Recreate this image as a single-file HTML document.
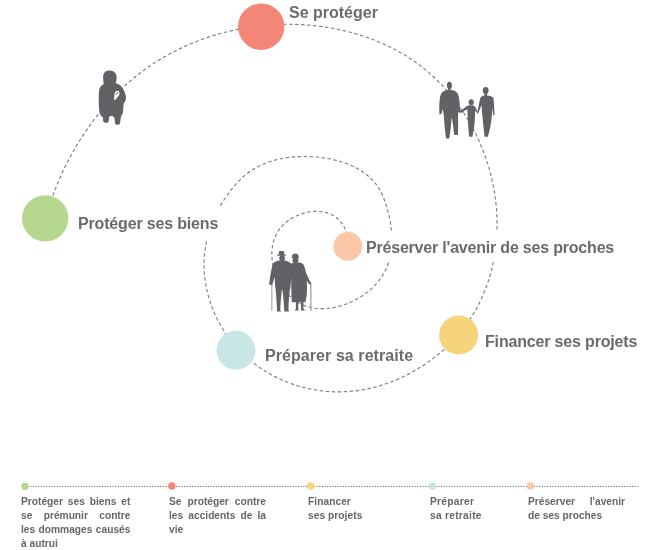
<!DOCTYPE html>
<html><head><meta charset="utf-8">
<style>
html,body{margin:0;padding:0;background:#fff;}
body{width:654px;height:550px;position:relative;overflow:hidden;font-family:"Liberation Sans",sans-serif;}
svg{position:absolute;left:0;top:0;}
.lbl{position:absolute;font-weight:bold;font-size:16px;color:#6a6b6f;white-space:nowrap;line-height:20px;background:#fff;will-change:transform;}
.col{position:absolute;top:495.2px;font-weight:bold;font-size:10.2px;line-height:13.85px;color:#65666a;will-change:transform;}
.j{text-align:justify;text-align-last:justify;}
</style></head><body>
<svg width="654" height="550" viewBox="0 0 654 550">
<path d="M347.86,246.83 L348.31,244.28 L348.36,241.44 L348.04,238.38 L347.38,235.22 L346.41,232.04 L345.17,228.95 L343.67,226.03 L341.97,223.39 L340.06,221.02 L337.97,218.93 L335.72,217.11 L333.32,215.56 L330.80,214.25 L328.15,213.20 L325.41,212.39 L322.59,211.81 L319.70,211.45 L316.77,211.32 L313.81,211.40 L310.83,211.68 L307.85,212.16 L304.89,212.84 L301.97,213.69 L299.10,214.73 L296.30,215.93 L293.58,217.30 L290.96,218.82 L288.46,220.50 L286.10,222.31 L283.89,224.26 L281.85,226.33 L279.99,228.53 L278.33,230.84 L276.87,233.25 L275.60,235.76 L274.52,238.35 L273.63,241.02 L272.93,243.75 L272.40,246.54 L272.04,249.37 L271.86,252.24 L271.84,255.14 L271.99,258.05 L272.29,260.97 L272.75,263.89 L273.36,266.79 L274.11,269.68 L275.01,272.53 L276.05,275.35 L277.22,278.11 L278.53,280.81 L279.96,283.45 L281.51,286.00 L283.18,288.46 L284.97,290.83 L286.87,293.09 L288.87,295.23 L290.98,297.24 L293.19,299.11 L295.49,300.84 L297.88,302.41 L300.37,303.82 L302.93,305.05 L305.57,306.09 L308.29,306.95 L311.06,307.63 L313.90,308.14 L316.78,308.47 L319.69,308.65 L322.64,308.67 L325.60,308.54 L328.58,308.27 L331.55,307.87 L334.52,307.33 L337.48,306.67 L340.40,305.89 L343.30,304.99 L346.15,303.99 L348.95,302.90 L351.70,301.70 L354.38,300.41 L357.01,299.03 L359.56,297.56 L362.04,296.00 L364.45,294.36 L366.78,292.63 L369.02,290.82 L371.19,288.94 L373.26,286.97 L375.24,284.93 L377.12,282.81 L378.91,280.62 L380.59,278.37 L382.17,276.04 L383.63,273.65 L384.98,271.20 L386.21,268.68 L387.33,266.11 L388.32,263.47 L389.18,260.79 L389.91,258.05 L390.53,255.27 L391.03,252.44 L391.42,249.58 L391.70,246.69 L391.87,243.77 L391.94,240.83 L391.91,237.87 L391.79,234.90 L391.58,231.92 L391.29,228.94 L390.91,225.96 L390.45,222.99 L389.91,220.03 L389.31,217.09 L388.63,214.17 L387.90,211.27 L387.10,208.41 L386.25,205.58 L385.34,202.79 L384.39,200.05 L383.37,197.36 L382.28,194.74 L381.08,192.21 L379.75,189.76 L378.30,187.42 L376.73,185.16 L375.05,183.00 L373.26,180.94 L371.36,178.96 L369.35,177.08 L367.26,175.28 L365.07,173.58 L362.79,171.96 L360.43,170.43 L357.99,168.99 L355.48,167.62 L352.90,166.35 L350.25,165.15 L347.55,164.04 L344.79,163.01 L341.98,162.06 L339.13,161.19 L336.23,160.39 L333.30,159.67 L330.33,159.03 L327.34,158.46 L324.33,157.97 L321.30,157.55 L318.25,157.20 L315.20,156.92 L312.14,156.71 L309.08,156.57 L306.03,156.50 L302.99,156.50 L299.96,156.56 L296.95,156.69 L293.95,156.89 L290.97,157.17 L288.02,157.52 L285.10,157.95 L282.20,158.45 L279.33,159.03 L276.49,159.70 L273.69,160.44 L270.93,161.27 L268.21,162.19 L265.52,163.19 L262.89,164.29 L260.30,165.47 L257.76,166.74 L255.28,168.11 L252.85,169.58 L250.48,171.14 L248.16,172.80 L245.91,174.56 L243.72,176.42 L241.59,178.35 L239.52,180.37 L237.51,182.46 L235.55,184.61 L233.64,186.82 L231.79,189.07 L229.99,191.37 L228.24,193.70 L226.55,196.07 L224.91,198.47 L223.32,200.91 L221.79,203.38 L220.32,205.89 L218.90,208.42 L217.55,210.99 L216.25,213.58 L215.01,216.19 L213.83,218.84 L212.72,221.50 L211.67,224.19 L210.68,226.90 L209.76,229.63 L208.90,232.38 L208.11,235.14 L207.39,237.92 L206.73,240.72 L206.15,243.52 L205.63,246.34 L205.18,249.17 L204.81,252.01 L204.51,254.86 L204.28,257.71 L204.13,260.57 L204.06,263.43 L204.05,266.30 L204.13,269.16 L204.28,272.03 L204.50,274.89 L204.79,277.75 L205.15,280.60 L205.59,283.45 L206.09,286.29 L206.67,289.12 L207.31,291.93 L208.02,294.74 L208.79,297.52 L209.63,300.30 L210.54,303.05 L211.51,305.79 L212.54,308.50 L213.63,311.19 L214.79,313.86 L216.00,316.50 L217.28,319.12 L218.61,321.70 L220.00,324.26 L221.45,326.78 L222.95,329.27 L224.51,331.73 L226.12,334.15 L227.79,336.53 L229.51,338.87 L231.28,341.17 L233.10,343.43 L234.97,345.64 L236.89,347.81 L238.86,349.93 L240.87,352.00 L242.94,354.03 L245.04,356.01 L247.19,357.93 L249.38,359.81 L251.61,361.64 L253.88,363.42 L256.19,365.15 L258.54,366.83 L260.92,368.45 L263.34,370.03 L265.79,371.55 L268.27,373.03 L270.78,374.45 L273.33,375.81 L275.90,377.13 L278.49,378.39 L281.12,379.59 L283.77,380.75 L286.44,381.84 L289.13,382.89 L291.85,383.88 L294.58,384.81 L297.34,385.68 L300.11,386.50 L302.89,387.27 L305.69,387.97 L308.51,388.62 L311.33,389.22 L314.17,389.75 L317.02,390.22 L319.87,390.64 L322.74,391.00 L325.61,391.30 L328.48,391.53 L331.36,391.71 L334.24,391.83 L337.12,391.89 L340.00,391.88 L342.88,391.82 L345.75,391.69 L348.63,391.50 L351.50,391.26 L354.36,390.96 L357.22,390.60 L360.08,390.18 L362.93,389.71 L365.76,389.18 L368.59,388.59 L371.41,387.96 L374.22,387.26 L377.02,386.52 L379.81,385.72 L382.58,384.87 L385.34,383.96 L388.08,383.01 L390.81,382.01 L393.52,380.96 L396.21,379.85 L398.88,378.70 L401.54,377.51 L404.17,376.26 L406.79,374.97 L409.38,373.63 L411.95,372.25 L414.49,370.82 L417.01,369.35 L419.50,367.83 L421.97,366.28 L424.41,364.68 L426.83,363.04 L429.21,361.35 L431.56,359.63 L433.89,357.87 L436.18,356.07 L438.44,354.23 L440.67,352.35 L442.86,350.44 L445.02,348.49 L447.14,346.50 L449.22,344.48 L451.27,342.42 L453.28,340.33 L455.24,338.20 L457.17,336.04 L459.06,333.85 L460.91,331.63 L462.71,329.38 L464.47,327.10 L466.18,324.78 L467.85,322.44 L469.47,320.07 L471.05,317.67 L472.57,315.25 L474.05,312.80 L475.49,310.32 L476.87,307.82 L478.21,305.29 L479.50,302.74 L480.74,300.17 L481.94,297.57 L483.09,294.95 L484.19,292.32 L485.25,289.66 L486.26,286.98 L487.23,284.29 L488.14,281.58 L489.02,278.85 L489.84,276.11 L490.63,273.35 L491.36,270.57 L492.05,267.79 L492.70,264.99 L493.30,262.17 L493.85,259.35 L494.36,256.51 L494.83,253.67 L495.25,250.81 L495.63,247.95 L495.96,245.08 L496.25,242.20 L496.50,239.32 L496.70,236.43 L496.86,233.54 L496.97,230.64 L497.04,227.74 L497.07,224.84 L497.05,221.93 L497.00,219.02 L496.89,216.12 L496.75,213.21 L496.56,210.31 L496.33,207.40 L496.06,204.51 L495.75,201.61 L495.39,198.72 L495.00,195.83 L494.56,192.95 L494.08,190.07 L493.56,187.21 L492.99,184.35 L492.39,181.49 L491.75,178.65 L491.06,175.82 L490.34,172.99 L489.58,170.18 L488.77,167.38 L487.93,164.58 L487.05,161.81 L486.13,159.04 L485.17,156.29 L484.18,153.55 L483.14,150.83 L482.07,148.12 L480.96,145.43 L479.82,142.75 L478.63,140.09 L477.41,137.45 L476.16,134.83 L474.86,132.23 L473.54,129.64 L472.17,127.08 L470.77,124.53 L469.34,122.01 L467.87,119.51 L466.37,117.03 L464.83,114.58 L463.25,112.15 L461.65,109.74 L460.01,107.36 L458.34,105.00 L456.63,102.67 L454.89,100.37 L453.12,98.09 L451.31,95.84 L449.48,93.62 L447.61,91.43 L445.71,89.27 L443.78,87.14 L441.82,85.04 L439.83,82.97 L437.80,80.93 L435.75,78.93 L433.66,76.96 L431.55,75.02 L429.41,73.12 L427.24,71.25 L425.03,69.42 L422.80,67.62 L420.54,65.86 L418.26,64.14 L415.94,62.45 L413.60,60.81 L411.23,59.20 L408.83,57.63 L406.41,56.10 L403.97,54.60 L401.50,53.15 L399.01,51.73 L396.49,50.34 L393.95,49.00 L391.39,47.69 L388.81,46.42 L386.21,45.18 L383.59,43.99 L380.95,42.82 L378.30,41.70 L375.63,40.61 L372.94,39.56 L370.23,38.54 L367.51,37.56 L364.77,36.62 L362.02,35.71 L359.26,34.83 L356.49,34.00 L353.70,33.20 L350.90,32.43 L348.09,31.70 L345.28,31.00 L342.45,30.34 L339.61,29.71 L336.77,29.12 L333.92,28.56 L331.07,28.04 L328.20,27.55 L325.34,27.09 L322.47,26.67 L319.59,26.29 L316.71,25.94 L313.83,25.62 L310.95,25.33 L308.07,25.08 L305.18,24.86 L302.29,24.68 L299.40,24.53 L296.52,24.41 L293.63,24.33 L290.74,24.28 L287.85,24.26 L284.96,24.28 L282.08,24.33 L279.19,24.41 L276.31,24.53 L273.43,24.68 L270.55,24.86 L267.67,25.07 L264.80,25.32 L261.93,25.60 L259.06,25.92 L256.20,26.26 L253.34,26.64 L250.49,27.06 L247.64,27.50 L244.80,27.98 L241.96,28.49 L239.13,29.04 L236.30,29.61 L233.48,30.22 L230.67,30.86 L227.87,31.53 L225.07,32.24 L222.28,32.98 L219.50,33.75 L216.72,34.55 L213.96,35.38 L211.21,36.25 L208.46,37.15 L205.73,38.08 L203.00,39.04 L200.29,40.03 L197.59,41.06 L194.90,42.12 L192.22,43.21 L189.56,44.33 L186.91,45.48 L184.28,46.66 L181.66,47.88 L179.05,49.12 L176.46,50.40 L173.89,51.71 L171.33,53.05 L168.79,54.42 L166.27,55.82 L163.77,57.25 L161.29,58.72 L158.82,60.21 L156.37,61.73 L153.95,63.29 L151.54,64.87 L149.16,66.49 L146.80,68.14 L144.46,69.81 L142.14,71.52 L139.85,73.26 L137.58,75.02 L135.33,76.82 L133.10,78.64 L130.90,80.49 L128.72,82.37 L126.56,84.28 L124.43,86.21 L122.32,88.17 L120.23,90.15 L118.16,92.16 L116.12,94.20 L114.10,96.26 L112.11,98.34 L110.14,100.45 L108.19,102.58 L106.27,104.73 L104.37,106.91 L102.49,109.11 L100.64,111.33 L98.82,113.57 L97.01,115.83 L95.23,118.11 L93.48,120.41 L91.75,122.73 L90.04,125.07 L88.36,127.43 L86.70,129.81 L85.07,132.20 L83.46,134.61 L81.88,137.04 L80.32,139.49 L78.79,141.95 L77.28,144.42 L75.79,146.92 L74.33,149.42 L72.90,151.94 L71.49,154.48 L70.11,157.03 L68.75,159.59 L67.42,162.16 L66.11,164.75 L64.83,167.35 L63.58,169.95 L62.35,172.57 L61.15,175.21 L59.97,177.85 L58.82,180.50 L57.69,183.16 L56.59,185.82 L55.52,188.50 L54.47,191.18 L53.45,193.88 L52.46,196.58 L51.49,199.28 L50.55,201.99 L49.63,204.71 L48.74,207.43 L47.88,210.16 L47.05,212.89 L46.24,215.63 L45.46,218.37" fill="none" stroke="#7f7f7f" stroke-width="1.15" stroke-dasharray="3.5 2.5"/>
</svg>
<div class="lbl" style="left:289px;top:3px">Se protéger</div>
<div class="lbl" style="left:77.5px;top:207px;padding:7px 5px 5px 0;letter-spacing:-0.17px">Protéger ses biens</div>
<div class="lbl" style="left:366px;top:231px;padding:7px 0 4px 0;letter-spacing:-0.2px">Préserver l'avenir de ses proches</div>
<div class="lbl" style="left:484.5px;top:332px;letter-spacing:-0.17px">Financer ses projets</div>
<div class="lbl" style="left:264.5px;top:346px;letter-spacing:0.07px">Préparer sa retraite</div>
<svg width="654" height="550" viewBox="0 0 654 550">
<circle cx="261.2" cy="26.7" r="23.2" fill="#f38677"/>
<circle cx="45.2" cy="218.4" r="23.2" fill="#b6d88e"/>
<circle cx="458.6" cy="335" r="19.5" fill="#f5d47c"/>
<circle cx="236" cy="350.3" r="19.5" fill="#c7e6e4"/>
<circle cx="347.8" cy="246.4" r="14.4" fill="#fac7a8"/>
<g transform="translate(92,64)" fill="#616266">
<path fill-rule="evenodd" d="M17.4,6.4 C21.3,6.4 24,8.6 24.4,11.5 C24.8,14.5 24.4,17.3 23.8,19.2 C26,19.8 28,20.8 29.4,22.4 C31.5,24.8 33.6,29 34,33.1 C34.2,35.5 33.2,37.5 31.6,40.1 C31.4,42.5 31.4,45 31,47.5 C30.8,49.5 30.2,50.6 29.2,52 C28.6,53.5 28.4,56.5 28.1,59.3 C27.6,60.6 26.2,60.8 25,60.7 C23.8,60.6 23.2,60.2 23,59 C22.8,57 22.6,54.5 22.1,52.9 C21,52 19.8,51.8 18.6,51.9 C17.6,52.3 17.1,53 16.9,54 C16.9,55.5 16.9,57 16.4,57.9 C15.7,58.8 14.2,58.9 13,58.7 C11.8,58.4 11.3,57.5 11.1,56.5 C11,55.5 11,54.5 11,53.5 C9.5,52.5 8.3,51.2 7.8,49.5 C7.1,47 6.8,42 6.7,35 C6.7,30 6.9,26.5 7.6,24.5 C8.2,22.8 9.6,21.2 11.6,20.2 C11.6,18.5 11.3,16.5 11.1,14 C10.9,11 11.8,8.6 13.8,7.3 C14.8,6.7 16,6.4 17.4,6.4 Z M25.4,26.8 C26.8,26.8 27.7,27.8 27.5,29.3 C27.3,31 26.3,32.6 25,34 C24.2,34.9 23.2,35.8 22.3,36.4 C22,35 22.1,33 22.4,31 C22.7,28.8 23.7,26.8 25.4,26.8 Z"/>
</g>
<g transform="translate(434,78)" fill="#616266">
<ellipse cx="15.4" cy="7.4" rx="2.5" ry="3.6"/>
<rect x="14.2" y="9" width="2.4" height="4"/>
<path d="M13,12 L17.8,12 C20.5,12.6 22.8,13.8 23.8,15.8 C25,18.5 25.6,23 25.8,28 L26,32 L29.8,33.2 L29.6,34.2 L25.6,34.8 L24.2,34 L24,38 C24.2,44 24.2,50 24,55.5 L23.6,57 L20.4,57 L20,55.5 C19.6,50 18.8,45 17.9,40.5 L17.4,40.5 C17.2,46 16.6,52 15.6,58.5 L15,60.6 L12,60.6 L11.8,58.5 C11,52 10.2,45 9.8,38 L9,31 L7.2,36.3 L5.4,36.2 L5.3,32 C5.2,26 5.6,19.5 7,15.8 C8.5,13.4 10.5,12.4 13,12 Z"/>
<ellipse cx="37.2" cy="24.2" rx="2.6" ry="2.9"/>
<path d="M35.6,27.3 L38.8,27.3 C40,27.8 41,28.3 41.4,29.2 L44.3,34.8 L43.7,35.8 L41.2,32.5 L40.9,40.8 C40.6,46 40,52 38.4,58.8 L35.2,58.8 C34.5,52 34,46 33.8,40.8 L33.3,31.5 L26.4,34.6 L25.8,33.8 L32.2,28.5 C33.2,27.7 34.4,27.4 35.6,27.3 Z"/>
<ellipse cx="51.7" cy="12.6" rx="2.9" ry="3.5"/>
<rect x="50.5" y="14" width="2.5" height="4"/>
<path d="M50,17.4 L53.5,17.4 C55.8,17.8 58.3,18.4 59.4,19.8 C60,25 60.3,31 60.6,36.6 L59.9,37.8 L59.2,36.8 L58.8,30 C58.4,33 58,35 57.8,38 C57.2,45 56,52 53.8,58.8 L50.6,58.8 C49.8,52 49,45 48.4,38 C48,34 47.7,30 47.5,27 L44.2,35.2 L43.3,34.8 C44.5,29 45.5,23 46.3,20 C47.2,18.2 48.5,17.6 50,17.4 Z"/>
</g>
<g transform="translate(262,244)">
<rect x="9.3" y="39" width="1.1" height="28" fill="#a2a3a6"/>
<rect x="48.2" y="39.8" width="1.3" height="27.2" fill="#a2a3a6"/>
<g fill="#616266">
<rect x="16.8" y="7" width="5.4" height="4.2" rx="1.2"/>
<ellipse cx="19.6" cy="11" rx="4.8" ry="0.85"/>
<ellipse cx="20.1" cy="14.2" rx="2.8" ry="3"/>
<path d="M17.5,16.4 L23,16.4 C25.5,17 28,17.8 29,19.5 L29.4,30 L28.6,42.3 C27.2,48 26.8,56 26.4,65.5 L27.2,67.5 L22.6,67.5 L22.2,66 C21.8,58 21.2,52 20.4,46 L19.8,46 C19.2,52 18.6,58 18.2,66 L19.2,67.5 L14.8,67.5 L15,65.5 C14.5,56 14,48 13.2,42.3 L12.6,33 L10.2,41 L7,40.4 L7.8,35 C8.6,30 9.6,24 10.8,20 C12.2,17.8 15,16.8 17.5,16.6 Z"/>
<ellipse cx="33.3" cy="12" rx="3.2" ry="2.5"/>
<ellipse cx="33.3" cy="13.6" rx="4.1" ry="0.85"/>
<ellipse cx="33.5" cy="16.2" rx="2.9" ry="3"/>
<path d="M30.5,18.6 L37.5,18.6 C39.5,19 41,19.8 41.6,20.8 C42.6,23 43.5,26 44.3,29.3 L47.8,37 L49.3,39.2 L48.6,40.8 L46.8,39.8 L44.8,36.5 C45,42 45.2,47 44.6,52 C44.2,55 43.8,57 43.2,58.3 L41.4,58.3 L41.5,64.7 L43.2,66.5 L39.1,66.5 L39.1,58.3 L36.2,58.3 L36.2,64.7 L36.8,66.5 L32.7,66.5 L33.9,64.7 L33.9,58.3 L29.8,58.3 C29.5,52 29.2,44 29.2,36 L28.4,22 C28.8,20 29.6,19.2 30.5,18.8 Z"/>
</g>
</g>
<line x1="25" y1="486.5" x2="638.5" y2="486.5" stroke="#6e6660" stroke-width="1.1" stroke-dasharray="1.1 1.55"/>
<circle cx="25" cy="486.2" r="3.7" fill="#b6d88e"/>
<circle cx="171.9" cy="486" r="3.7" fill="#f38677"/>
<circle cx="310.7" cy="486" r="3.7" fill="#f5d47c"/>
<circle cx="432.5" cy="486" r="3.7" fill="#c7e6e4"/>
<circle cx="530.2" cy="486" r="3.7" fill="#fac7a8"/>
</svg>
<div class="col" style="left:21.2px;width:109.4px"><div class="j">Protéger ses biens et</div><div class="j">se prémunir contre</div><div class="j">les dommages causés</div><div>à autrui</div></div>
<div class="col" style="left:169.2px;width:97px"><div class="j">Se protéger contre</div><div class="j">les accidents de la</div><div>vie</div></div>
<div class="col" style="left:307.6px;width:96px;letter-spacing:0.05px"><div>Financer</div><div>ses projets</div></div>
<div class="col" style="left:430.2px;width:70px;letter-spacing:0.28px"><div>Préparer</div><div>sa retraite</div></div>
<div class="col" style="left:527.6px;width:97px"><div class="j">Préserver l'avenir</div><div>de ses proches</div></div>
</body></html>
